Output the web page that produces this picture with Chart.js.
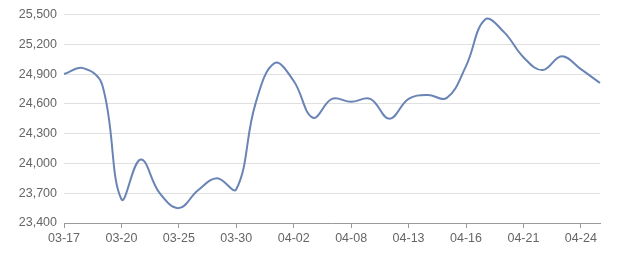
<!DOCTYPE html>
<html>
<head>
<meta charset="utf-8">
<script src="https://cdn.jsdelivr.net/npm/chart.js@4/dist/chart.umd.min.js"></script>
<style>
  html, body { margin: 0; padding: 0; background: #fff; }
  #wrap { width: 640px; height: 270px; }
</style>
</head>
<body>
<div id="wrap"><canvas id="grafica" width="640" height="270"></canvas></div>
<script>
// fechas (solo cada 3 se muestra)
const fechas = [
  "03-17", "03-18", "03-19", "03-20", "03-21", "03-24", "03-25", "03-26", "03-27", "03-30",
  "03-31", "04-01", "04-02", "04-03", "04-07", "04-08", "04-09", "04-10", "04-13", "04-14",
  "04-15", "04-16", "04-17", "04-18", "04-21", "04-22", "04-23", "04-24", "04-25"
];

const precios = [
  24900, 24960, 24790, 23640, 24040, 23700, 23550, 23730, 23850, 23740,
  24600, 25010, 24830, 24460, 24650, 24620, 24650, 24450, 24650, 24690,
  24660, 24980, 25450, 25320, 25070, 24940, 25080, 24950, 24810
];

// ticks eje y
const yMin = 23400;
const yMax = 25500;
const yPaso = 300;

const gris = "#666";

new Chart(document.getElementById("grafica"), {
  type: "line",
  data: {
    labels: fechas,
    datasets: [{
      data: precios,
      borderColor: "#6a84b6",
      borderWidth: 2,
      pointRadius: 0,
      tension: 0.4,
      fill: false
    }]
  },
  options: {
    responsive: false,
    animation: false,
    layout: { padding: { top: 10, right: 40, left: 0, bottom: 0 } },
    plugins: { legend: { display: false }, tooltip: { enabled: false } },
    scales: {
      x: {
        afterFit: (s) => { s.height = 47; },
        border: { color: "#9a9a9a", width: 1 },
        grid: {
          drawOnChartArea: false,
          tickLength: 5,
          color: (ctx) => (ctx.index % 3 === 0 ? "#9a9a9a" : "rgba(0,0,0,0)")
        },
        ticks: {
          autoSkip: false,
          maxRotation: 0,
          padding: 3,
          color: gris,
          font: { family: "'Liberation Sans', Arial, sans-serif", size: 12.5 },
          callback: (v, i) => (i % 3 === 0 ? fechas[i] : "")
        }
      },
      y: {
        min: yMin,
        max: yMax,
        afterFit: (s) => { s.width = 64; },
        border: { display: false },
        grid: { color: "#e0e0e0", drawTicks: false },
        ticks: {
          stepSize: yPaso,
          padding: 7,
          color: gris,
          font: { family: "'Liberation Sans', Arial, sans-serif", size: 12.5 },
          callback: (v) => v.toLocaleString("en-US")
        }
      }
    }
  }
});
</script>
</body>
</html>
